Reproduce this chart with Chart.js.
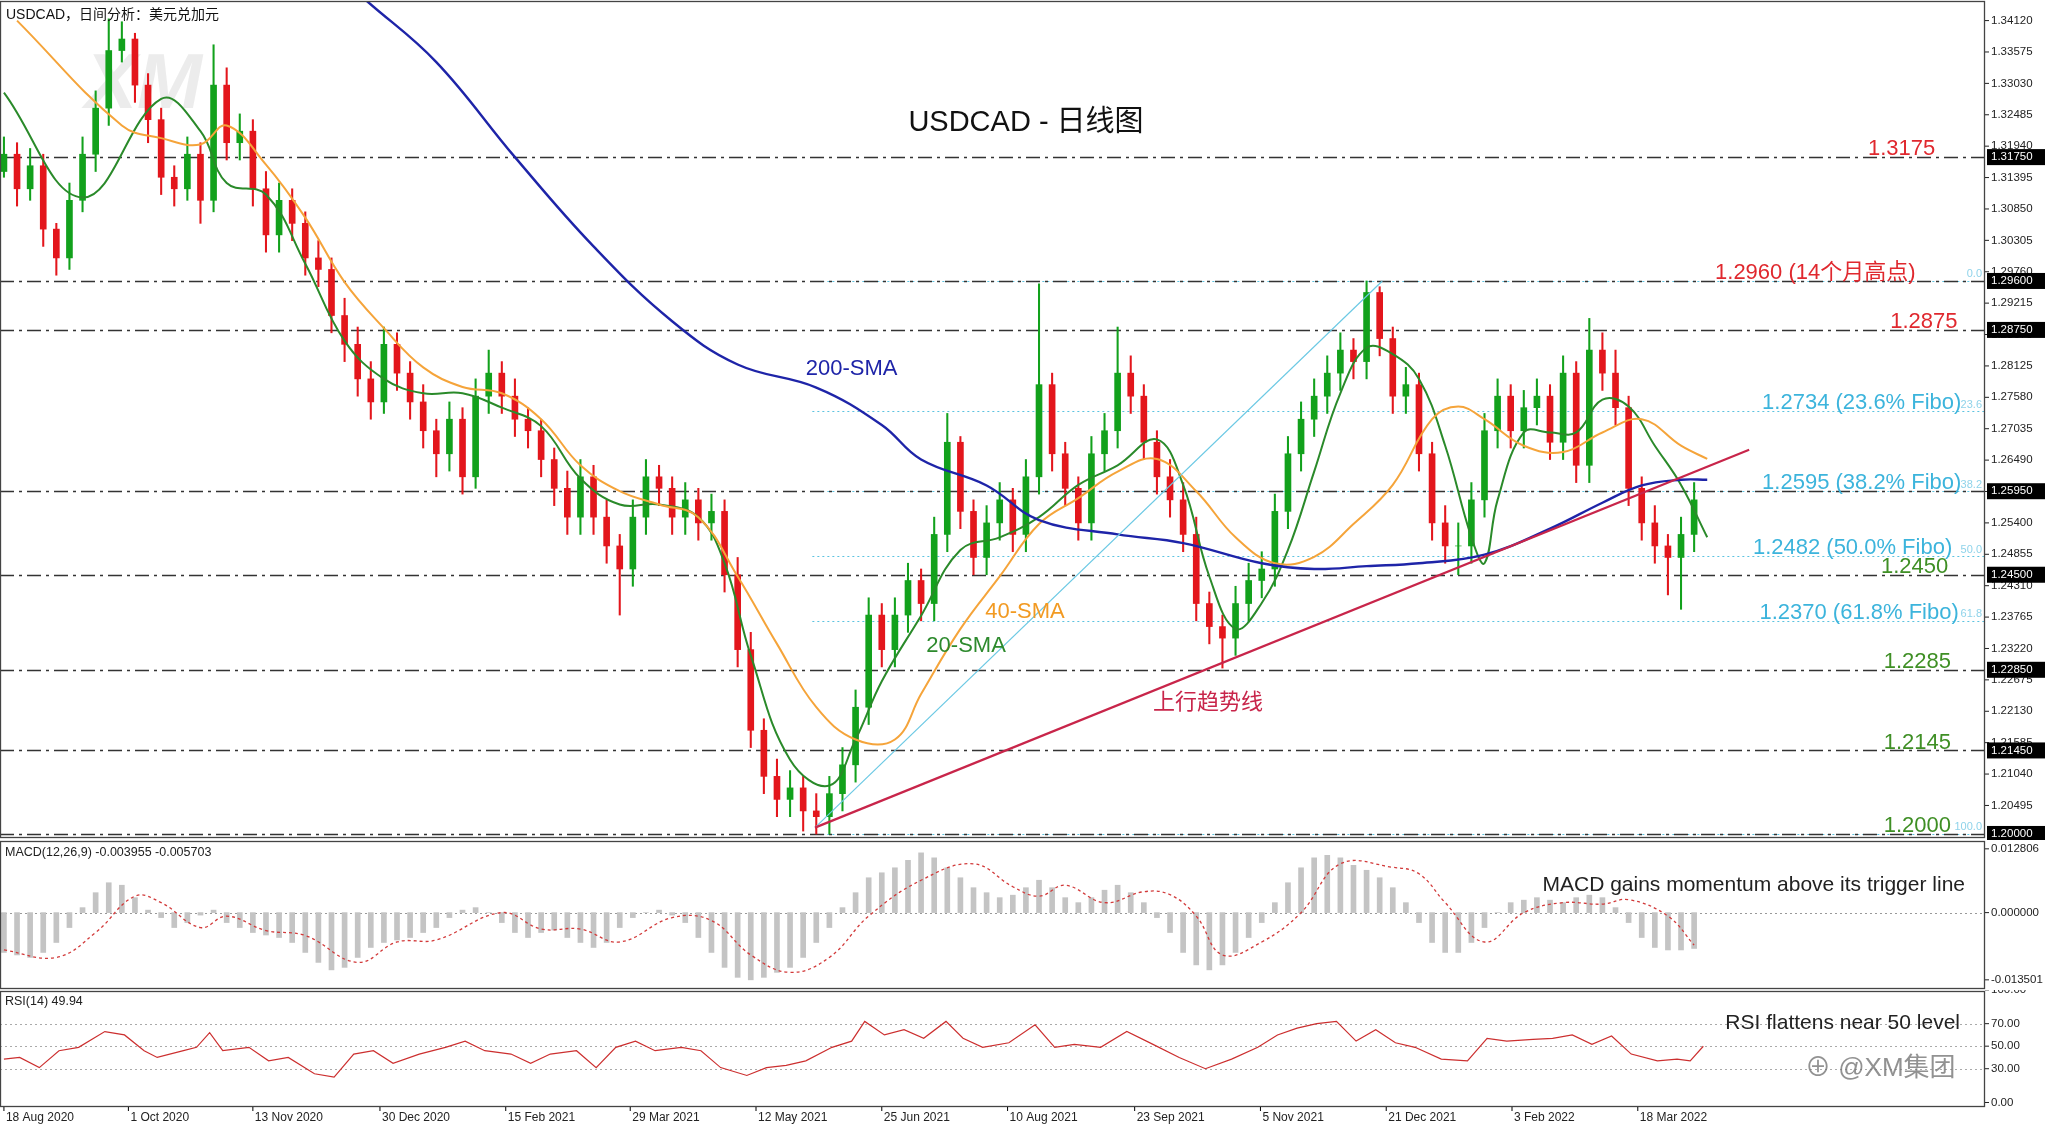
<!DOCTYPE html>
<html><head><meta charset="utf-8">
<script src="https://cdn.jsdelivr.net/npm/chart.js@4/dist/chart.umd.min.js"></script>
<style>
html,body{margin:0;padding:0;background:#fff;width:2048px;height:1126px;overflow:hidden}
canvas{position:absolute;left:0}
</style></head><body>
<canvas id="c1" width="2048" height="840" style="top:0"></canvas>
<canvas id="c2" width="2048" height="150" style="top:840px"></canvas>
<canvas id="c3" width="2048" height="136" style="top:990px"></canvas>
<script>
// ---------- DATA ----------
const firstOpen = 1.315;
const closes = [1.318,1.312,1.316,1.305,1.300,1.310,1.318,1.326,1.336,1.338,1.330,1.324,1.314,1.312,1.318,1.310,1.330,1.320,1.322,1.312,1.304,1.310,1.306,1.300,1.298,1.290,1.285,1.279,1.275,1.285,1.280,1.275,1.270,1.266,1.272,1.262,1.276,1.280,1.276,1.272,1.270,1.265,1.260,1.255,1.262,1.255,1.250,1.246,1.255,1.262,1.260,1.255,1.258,1.254,1.256,1.245,1.232,1.218,1.210,1.206,1.208,1.204,1.203,1.207,1.212,1.222,1.238,1.232,1.238,1.244,1.240,1.252,1.268,1.256,1.248,1.254,1.258,1.252,1.262,1.278,1.266,1.260,1.254,1.266,1.270,1.280,1.276,1.268,1.262,1.258,1.252,1.240,1.236,1.234,1.240,1.244,1.246,1.256,1.266,1.272,1.276,1.280,1.284,1.282,1.294,1.286,1.276,1.278,1.266,1.254,1.250,1.250,1.258,1.270,1.276,1.270,1.274,1.276,1.268,1.280,1.264,1.284,1.280,1.274,1.260,1.254,1.250,1.248,1.252,1.258];
const highs = [1.321,1.320,1.319,1.318,1.306,1.313,1.321,1.329,1.3415,1.341,1.339,1.332,1.326,1.316,1.321,1.320,1.337,1.333,1.325,1.324,1.315,1.313,1.312,1.308,1.303,1.300,1.293,1.288,1.282,1.288,1.287,1.282,1.278,1.272,1.275,1.274,1.279,1.284,1.282,1.279,1.274,1.272,1.267,1.263,1.265,1.264,1.258,1.252,1.258,1.265,1.264,1.262,1.261,1.260,1.259,1.258,1.248,1.235,1.220,1.213,1.211,1.210,1.207,1.210,1.215,1.225,1.241,1.240,1.241,1.247,1.246,1.255,1.273,1.269,1.258,1.257,1.261,1.260,1.265,1.2955,1.280,1.268,1.262,1.269,1.273,1.288,1.283,1.278,1.270,1.265,1.261,1.255,1.242,1.238,1.243,1.247,1.249,1.259,1.269,1.275,1.279,1.283,1.287,1.286,1.296,1.295,1.288,1.281,1.280,1.268,1.257,1.254,1.261,1.273,1.279,1.278,1.277,1.279,1.278,1.283,1.282,1.2895,1.287,1.284,1.276,1.262,1.257,1.252,1.255,1.261];
const lows = [1.314,1.309,1.310,1.302,1.297,1.298,1.308,1.315,1.323,1.334,1.327,1.320,1.311,1.309,1.310,1.306,1.308,1.317,1.317,1.309,1.301,1.301,1.303,1.297,1.295,1.287,1.282,1.276,1.272,1.273,1.277,1.272,1.267,1.262,1.263,1.259,1.260,1.273,1.273,1.269,1.267,1.262,1.257,1.252,1.252,1.252,1.247,1.238,1.243,1.252,1.257,1.252,1.252,1.251,1.251,1.242,1.229,1.215,1.207,1.203,1.203,1.2005,1.200,1.200,1.204,1.209,1.219,1.229,1.229,1.235,1.237,1.237,1.249,1.253,1.245,1.245,1.251,1.249,1.249,1.259,1.263,1.257,1.251,1.251,1.263,1.267,1.273,1.265,1.259,1.255,1.249,1.237,1.233,1.2288,1.231,1.237,1.241,1.243,1.253,1.263,1.269,1.273,1.277,1.279,1.279,1.283,1.273,1.273,1.263,1.251,1.247,1.245,1.247,1.255,1.267,1.267,1.267,1.271,1.265,1.265,1.261,1.261,1.277,1.271,1.257,1.251,1.247,1.2415,1.239,1.249];

const sma20X = [0,6,12,15,17,20,23,26,29,32,35,38,41,44,47,50,53,55,57,60,63,65,67,70,73,76,79,82,85,88,90,92,94,96,98,100,102,104,106,108,110,112,113,114,116,118,120,122,124,126,128,130];
const sma20V = [1.3287,1.3105,1.3276,1.322,1.313,1.311,1.299,1.2856,1.279,1.2765,1.2765,1.274,1.2708,1.2617,1.2572,1.2572,1.255,1.247,1.231,1.2129,1.2084,1.2164,1.2265,1.2379,1.2493,1.2515,1.255,1.2606,1.264,1.2685,1.2606,1.2447,1.2356,1.2401,1.2493,1.2629,1.2765,1.2844,1.2833,1.279,1.2674,1.2515,1.247,1.258,1.2697,1.2697,1.2697,1.2754,1.2742,1.2674,1.2606,1.2515];
const sma40X = [1,9,12,15,17,20,23,26,29,32,35,38,41,44,47,50,53,56,59,62,65,68,70,73,76,79,82,85,88,91,94,97,100,103,106,109,111,113,116,119,122,125,128,130];
const sma40V = [1.3412,1.323,1.3208,1.3197,1.323,1.3162,1.307,1.2958,1.2878,1.281,1.2776,1.2765,1.272,1.264,1.2595,1.2572,1.255,1.2447,1.233,1.222,1.2164,1.2164,1.2243,1.2356,1.2447,1.2538,1.2583,1.2629,1.2651,1.2595,1.2515,1.247,1.2481,1.2538,1.2606,1.272,1.2742,1.272,1.2674,1.2663,1.2697,1.272,1.2674,1.2651];
const sma200X = [27.7,33,39,45,51,56,62,67,70,75,79,85,90,96,100,104,108,113,118,122,125,128,130];
const sma200V = [1.3446,1.334,1.3175,1.302,1.289,1.2815,1.2775,1.271,1.265,1.2605,1.2545,1.252,1.2505,1.247,1.246,1.2465,1.247,1.2485,1.253,1.2575,1.2605,1.2615,1.2615];

const macdMain = [-0.008,-0.0085,-0.009,-0.008,-0.006,-0.003,0.001,0.004,0.006,0.0055,0.003,0.0005,-0.001,-0.003,-0.002,-0.0005,0.0005,-0.002,-0.003,-0.004,-0.0045,-0.005,-0.006,-0.008,-0.010,-0.0115,-0.011,-0.009,-0.007,-0.006,-0.0055,-0.005,-0.004,-0.003,-0.001,0.0005,0.001,0,-0.002,-0.004,-0.005,-0.004,-0.0035,-0.005,-0.006,-0.007,-0.006,-0.003,-0.001,0,0.0005,-0.0005,-0.002,-0.005,-0.008,-0.011,-0.013,-0.0135,-0.013,-0.012,-0.011,-0.009,-0.006,-0.003,0.001,0.004,0.007,0.008,0.009,0.0105,0.012,0.011,0.009,0.007,0.005,0.004,0.003,0.0035,0.005,0.0065,0.005,0.003,0.002,0.003,0.0045,0.0055,0.004,0.002,-0.001,-0.004,-0.008,-0.0105,-0.0115,-0.0105,-0.008,-0.005,-0.002,0.002,0.006,0.009,0.011,0.0115,0.011,0.0095,0.0085,0.007,0.005,0.002,-0.002,-0.006,-0.008,-0.008,-0.006,-0.003,0,0.002,0.0025,0.003,0.0025,0.002,0.003,0.0035,0.003,0.001,-0.002,-0.005,-0.007,-0.0075,-0.0075,-0.0072];
const macdSigX = [0,4,7,10,12,15,17,20,23,27,30,33,38,41,44,47,51,54,57,60,63,66,70,74,77,79,81,84,87,89,91,93,96,99,102,106,108,110,113,116,119,122,124,127,129];
const macdSigV = [-0.0075,-0.009,-0.004,0.0033,0.002,-0.003,-0.0007,-0.0036,-0.0046,-0.010,-0.0059,-0.0055,0,-0.0033,-0.0033,-0.0059,-0.001,-0.0016,-0.0085,-0.012,-0.009,-0.0007,0.0065,0.0098,0.0052,0.0033,0.0055,0.002,0.0042,0.0036,-0.0007,-0.0085,-0.0059,0,0.0098,0.0091,0.0078,0.002,-0.0059,0,0.002,0.0017,0.0026,-0.0007,-0.0065];

const rsiX = [0,1.2,2.7,4.2,5.7,7.7,9.2,10.7,11.7,13.7,14.7,15.7,16.7,18.7,20.2,21.7,23.7,25.2,26.7,28.2,29.7,31.7,33.7,35.2,36.7,38.7,40.2,41.7,43.7,45.2,46.7,48.2,49.7,51.7,53.2,54.7,56.7,58.2,59.7,61.2,63.2,64.7,65.7,67.2,68.7,70.2,71.9,73.2,74.7,76.7,78.7,80.2,81.7,83.7,85.7,87.7,89.7,91.7,93.7,95.7,97.2,98.7,100.2,101.7,103.2,104.7,106.2,107.7,109.7,111.7,113.2,114.7,116.7,118.2,119.7,121.2,122.7,124.2,126.2,127.7,128.7,129.7];
const rsiV = [38.5,40,31,46,49,63,60,46,40,46,49,62,46,49,37,40,25.5,22.6,43,46,34.8,43,49,54.5,46,43,34.8,43,46,31,49,54.5,46,49,46,31,24,31,33,37,49,54.5,72,60,64.6,57,72,57,49,53,69,49,51.6,49,63,51.6,40,30,38.5,49,60,66,70,72,54.5,64.6,53,49,38.5,37,57,54.5,56,57,60,51.6,59,43,37,38.5,37,49.94];

const dateTickX = [0,9.5,19,28.7,38.3,47.8,57.4,67,76.6,86.3,95.9,105.5,115.1,124.7];
const dateLabels = ['18 Aug 2020','1 Oct 2020','13 Nov 2020','30 Dec 2020','15 Feb 2021','29 Mar 2021','12 May 2021','25 Jun 2021','10 Aug 2021','23 Sep 2021','5 Nov 2021','21 Dec 2021','3 Feb 2022','18 Mar 2022'];
const priceTicks = [1.34120,1.33575,1.33030,1.32485,1.31940,1.31395,1.30850,1.30305,1.29760,1.29215,1.28670,1.28125,1.27580,1.27035,1.26490,1.25945,1.25400,1.24855,1.24310,1.23765,1.23220,1.22675,1.22130,1.21585,1.21040,1.20495];
const boxLevels = [1.31750,1.29600,1.28750,1.25950,1.24500,1.22850,1.21450,1.20000];
const srLevels = [1.3175,1.2960,1.2875,1.2595,1.2450,1.2285,1.2145,1.2000];
const fiboLevels = [1.2960,1.2734,1.2595,1.2482,1.2370,1.2000];
const fiboPct = ['0.0','23.6','38.2','50.0','61.8','100.0'];
const levelTexts = ['1.3175','1.2960 (14个月高点)','1.2875','1.2734 (23.6% Fibo)','1.2595 (38.2% Fibo)','1.2482 (50.0% Fibo)','1.2450','1.2370 (61.8% Fibo)','1.2285','1.2145','1.2000'];
const levelTextVals = [1.3175,1.2960,1.2875,1.2734,1.2595,1.2482,1.2450,1.2370,1.2285,1.2145,1.2000];
const trendLine = [{x:61.9,y:1.2011},{x:133.2,y:1.2667}];
const fiboLine = [{x:61.9,y:1.2011},{x:105.2,y:1.2960}];
const smaLabels = ['200-SMA','40-SMA','20-SMA','上行趋势线'];
const smaLabelAt = [{x:61.2,y:1.2808},{x:74.9,y:1.2386},{x:70.4,y:1.2327},{x:87.7,y:1.2227}];

// ---------- STYLE / LAYOUT ----------
const XMIN=-0.3, XMAX=151.2, RPAD=63;
const FONT='"Liberation Sans","Noto Sans CJK SC",Arial,sans-serif';
const GREEN='#12a11c', RED='#e3161c';
const labelEnd=[147.4,145.9,149.1,149.4,149.4,148.7,148.4,149.2,148.6,148.6,148.6];
const labelColor=['#e0282e','#e0282e','#e0282e','#3cb4dc','#3cb4dc','#3cb4dc','#3f8f25','#3cb4dc','#3f8f25','#3f8f25','#3f8f25'];
Chart.defaults.animation=false;
Chart.defaults.devicePixelRatio=1;

function xyPts(xs,vs){return xs.map((x,i)=>({x:x,y:vs[i]}));}
const opens = closes.map((c,i)=> i===0?firstOpen:closes[i-1]);
const bodies = closes.map((c,i)=>({x:i,y:[opens[i],c]}));
const wicks = closes.map((c,i)=>({x:i,y:[lows[i],highs[i]]}));
const candleCol = closes.map((c,i)=> c>=opens[i]?GREEN:RED);

function baseScales(ymin,ymax){return {
  x:{type:'linear',min:XMIN,max:XMAX,display:false,offset:false},
  y:{type:'linear',min:ymin,max:ymax,display:false}};}

function frame(ctx,a){ctx.save();ctx.strokeStyle='#444';ctx.lineWidth=1.3;ctx.strokeRect(a.left+0.5,a.top+0.5,a.right-a.left-1,a.bottom-a.top-1);ctx.restore();}
function hline(ctx,a,y,x0,dash,color,w){ctx.save();ctx.beginPath();ctx.setLineDash(dash);ctx.strokeStyle=color;ctx.lineWidth=w;ctx.moveTo(x0,y);ctx.lineTo(a.right,y);ctx.stroke();ctx.restore();}
function rtick(ctx,a,y,txt){ctx.save();ctx.fillStyle='#222';ctx.strokeStyle='#222';ctx.beginPath();ctx.moveTo(a.right,y);ctx.lineTo(a.right+4,y);ctx.stroke();ctx.font='11.5px '+FONT;ctx.textBaseline='middle';ctx.textAlign='left';ctx.fillText(txt,a.right+6,y);ctx.restore();}

// ---------- MAIN ----------
const mainPlugin={id:'mainDeco',
 beforeDatasetsDraw(ch){const c=ch.ctx,a=ch.chartArea,X=ch.scales.x,Y=ch.scales.y;
  c.save();c.font='italic bold 78px '+FONT;c.fillStyle='rgba(200,200,200,0.35)';c.fillText('XM',85,108);c.restore();
  const fx=X.getPixelForValue(61.7);
  fiboLevels.forEach(v=>hline(c,a,Math.round(Y.getPixelForValue(v))+0.5,fx,[2,3],'#5cc3e0',1.2));
  srLevels.forEach(v=>hline(c,a,Math.round(Y.getPixelForValue(v))+0.5,a.left,[14,5,3,5],'#333',1.3));
 },
 afterDatasetsDraw(ch){const c=ch.ctx,a=ch.chartArea,X=ch.scales.x,Y=ch.scales.y;
  frame(c,a);
  c.save();
  c.font='14px '+FONT;c.fillStyle='#111';c.textBaseline='top';c.fillText('USDCAD，日间分析：美元兑加元',6,8);
  c.font='29px '+FONT;c.textAlign='center';c.textBaseline='middle';c.fillText('USDCAD - 日线图',1026,123);
  c.font='22px '+FONT;c.textAlign='right';c.textBaseline='bottom';
  levelTexts.forEach((t,i)=>{c.fillStyle=labelColor[i];c.fillText(t,X.getPixelForValue(labelEnd[i]),Y.getPixelForValue(levelTextVals[i])+3);});
  c.font='11px '+FONT;c.fillStyle='#8fd3ea';c.textAlign='right';
  fiboLevels.forEach((v,i)=>c.fillText(fiboPct[i],a.right-3,Y.getPixelForValue(v)-1));
  c.font='22px '+FONT;c.textAlign='left';c.textBaseline='middle';
  const cols=['#1e24a8','#f29a22','#2d8a2d','#c8254a'];
  smaLabels.forEach((t,i)=>{c.fillStyle=cols[i];c.fillText(t,X.getPixelForValue(smaLabelAt[i].x),Y.getPixelForValue(smaLabelAt[i].y));});
  c.restore();
  priceTicks.forEach(v=>rtick(c,a,Y.getPixelForValue(v),v.toFixed(5)));
  c.save();c.font='11.5px '+FONT;c.textBaseline='middle';
  boxLevels.forEach(v=>{const y=Y.getPixelForValue(v);c.fillStyle='#000';c.fillRect(a.right+2,y-8,58,16);c.fillStyle='#fff';c.fillText(v.toFixed(5),a.right+6,y);});
  c.restore();
 }};
new Chart(document.getElementById('c1'),{
 data:{datasets:[
  {type:'bar',data:wicks,backgroundColor:candleCol,barThickness:1.4,grouped:false,order:5},
  {type:'bar',data:bodies,backgroundColor:candleCol,barThickness:6,grouped:false,order:4},
  {type:'line',data:xyPts(sma200X,sma200V),borderColor:'#1e24a8',borderWidth:2.4,pointRadius:0,tension:0.4,order:1},
  {type:'line',data:xyPts(sma40X,sma40V),borderColor:'#f5a43a',borderWidth:2,pointRadius:0,tension:0.4,order:2},
  {type:'line',data:xyPts(sma20X,sma20V),borderColor:'#2a8a2a',borderWidth:2,pointRadius:0,tension:0.4,order:3},
  {type:'line',data:trendLine,borderColor:'#c8254a',borderWidth:2.2,pointRadius:0,order:0},
  {type:'line',data:fiboLine,borderColor:'#6cc9e4',borderWidth:1.2,pointRadius:0,order:0}
 ]},
 options:{responsive:false,layout:{padding:{left:0,right:RPAD,top:1,bottom:2}},
  plugins:{legend:{display:false},tooltip:{enabled:false}},
  scales:baseScales(1.1993,1.3446)},
 plugins:[mainPlugin]});

// ---------- MACD ----------
const macdPlugin={id:'macdDeco',
 beforeDatasetsDraw(ch){const c=ch.ctx,a=ch.chartArea,Y=ch.scales.y;hline(c,a,Math.round(Y.getPixelForValue(0))+0.5,a.left,[2,3],'#999',1);},
 afterDatasetsDraw(ch){const c=ch.ctx,a=ch.chartArea,Y=ch.scales.y;frame(c,a);
  c.save();c.font='12.5px '+FONT;c.fillStyle='#222';c.textBaseline='top';c.fillText('MACD(12,26,9) -0.003955 -0.005703',5,a.top+5);
  c.font='21px '+FONT;c.textAlign='right';c.textBaseline='middle';c.fillText('MACD gains momentum above its trigger line',1965,a.top+44);c.restore();
  rtick(c,a,Y.getPixelForValue(0.012806),'0.012806');rtick(c,a,Y.getPixelForValue(0),'0.000000');rtick(c,a,Y.getPixelForValue(-0.013501),'-0.013501');
 }};
new Chart(document.getElementById('c2'),{
 data:{datasets:[
  {type:'bar',data:macdMain.map((v,i)=>({x:i,y:v})),backgroundColor:'#c4c4c4',barThickness:5,order:2},
  {type:'line',data:xyPts(macdSigX,macdSigV),borderColor:'#d23a3a',borderWidth:1.3,borderDash:[3,3],pointRadius:0,tension:0.4,order:1}
 ]},
 options:{responsive:false,layout:{padding:{left:0,right:RPAD,top:1,bottom:1}},
  plugins:{legend:{display:false},tooltip:{enabled:false}},scales:baseScales(-0.01534,0.01438)},
 plugins:[macdPlugin]});

// ---------- RSI ----------
const rsiPlugin={id:'rsiDeco',
 beforeDatasetsDraw(ch){const c=ch.ctx,a=ch.chartArea,Y=ch.scales.y;[70,50,30].forEach(v=>hline(c,a,Math.round(Y.getPixelForValue(v))+0.5,a.left,[2,3],'#aaa',1));},
 afterDatasetsDraw(ch){const c=ch.ctx,a=ch.chartArea,X=ch.scales.x,Y=ch.scales.y;frame(c,a);
  c.save();c.font='12.5px '+FONT;c.fillStyle='#222';c.textBaseline='top';c.fillText('RSI(14) 49.94',5,a.top+4);
  c.font='21px '+FONT;c.textAlign='right';c.textBaseline='middle';c.fillText('RSI flattens near 50 level',1960,a.top+32);
  c.font='26px '+FONT;c.fillStyle='rgba(110,110,110,0.75)';c.textAlign='left';c.fillText('⊕ @XM集团',1805,a.top+78);
  c.font='12px '+FONT;c.fillStyle='#222';c.textBaseline='top';
  dateTickX.forEach((x,i)=>{const px=X.getPixelForValue(x);c.beginPath();c.moveTo(px,a.bottom);c.lineTo(px,a.bottom+4);c.stroke();c.fillText(dateLabels[i],px+2,a.bottom+5);});
  c.restore();
  [[100,'100.00'],[70,'70.00'],[50,'50.00'],[30,'30.00'],[0,'0.00']].forEach(p=>rtick(c,a,Y.getPixelForValue(p[0]),p[1]));
 }};
new Chart(document.getElementById('c3'),{
 data:{datasets:[
  {type:'line',data:xyPts(rsiX,rsiV),borderColor:'#cc2f2f',borderWidth:1.2,pointRadius:0,tension:0}
 ]},
 options:{responsive:false,layout:{padding:{left:0,right:RPAD,top:1,bottom:19}},
  plugins:{legend:{display:false},tooltip:{enabled:false}},scales:baseScales(-4,99)},
 plugins:[rsiPlugin]});
</script></body></html>
